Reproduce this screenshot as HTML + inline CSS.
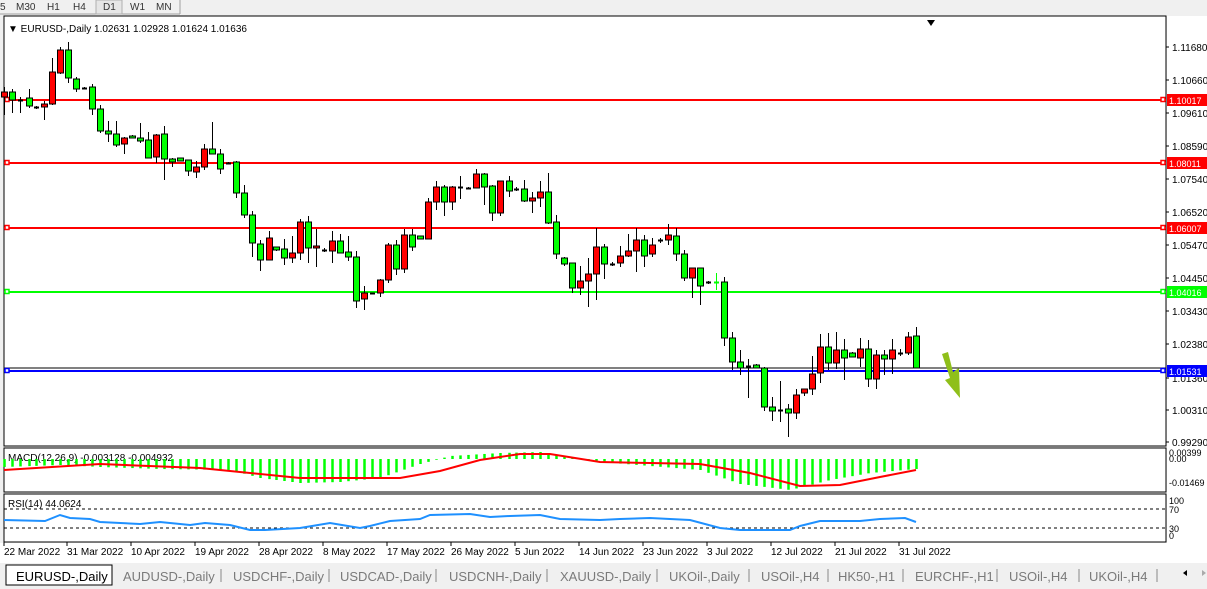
<!DOCTYPE html>
<html><head><meta charset="utf-8"><style>
body{margin:0;width:1207px;height:589px;overflow:hidden;background:#fff;font-family:"Liberation Sans",sans-serif;}
svg{position:absolute;left:0;top:0}
</style></head><body>
<svg id="s" width="1207" height="589" xmlns="http://www.w3.org/2000/svg" font-family="Liberation Sans, sans-serif">
<rect x="0" y="0" width="1207" height="589" fill="#f0f0f0"/>
<rect x="0" y="0" width="180" height="14" fill="#f0f0f0"/>
<line x1="0" y1="14" x2="180" y2="14" stroke="#a0a0a0"/>
<line x1="180" y1="0" x2="180" y2="14" stroke="#a0a0a0"/>
<rect x="96" y="0" width="26" height="14" fill="#e6e6e6" stroke="#b0b0b0"/>
<g font-size="10" fill="#333">
<text x="0" y="10">5</text><text x="16" y="10">M30</text><text x="47" y="10">H1</text><text x="73" y="10">H4</text>
<text x="103" y="10">D1</text><text x="130" y="10">W1</text><text x="156" y="10">MN</text></g>
<rect x="4" y="16" width="1162" height="430" fill="#fff" stroke="#000"/>
<rect x="4" y="448" width="1162" height="44" fill="#fff" stroke="#000"/>
<rect x="4" y="494" width="1162" height="48" fill="#fff" stroke="#000"/>
<rect x="1167" y="16" width="40" height="527" fill="#fff"/>
<rect x="0" y="543" width="1207" height="20" fill="#fff"/>
<text x="8" y="32" font-size="10" fill="#000">▼ EURUSD-,Daily  1.02631 1.02928 1.01624 1.01636</text>
<polygon points="927,20 935,20 931,26" fill="#000"/>
<g id="axis" font-size="10" fill="#000"></g>
<g id="lines"></g>
<g id="candles"></g>
<polygon points="942,354 948,352 953,372 959,368 960,398 945,380 950,378" fill="#8fbf1a"/>
<g id="macd"></g>
<g id="rsi"></g>
<g id="dates" font-size="10" fill="#000"></g>
<rect x="0" y="563" width="1207" height="26" fill="#f0f0f0"/>
<rect x="6" y="565" width="106" height="20" fill="#fff" stroke="#000"/>
<g font-size="13" fill="#7a7a7a">
<text x="16" y="581" fill="#000">EURUSD-,Daily</text>
<text x="123" y="581">AUDUSD-,Daily</text><text x="233" y="581">USDCHF-,Daily</text>
<text x="340" y="581">USDCAD-,Daily</text><text x="449" y="581">USDCNH-,Daily</text>
<text x="560" y="581">XAUUSD-,Daily</text><text x="669" y="581">UKOil-,Daily</text>
<text x="761" y="581">USOil-,H4</text><text x="838" y="581">HK50-,H1</text>
<text x="915" y="581">EURCHF-,H1</text><text x="1009" y="581">USOil-,H4</text>
<text x="1089" y="581">UKOil-,H4</text></g>
<g stroke="#888"><line x1="221" y1="569" x2="221" y2="582"/><line x1="329" y1="569" x2="329" y2="582"/><line x1="436" y1="569" x2="436" y2="582"/><line x1="547" y1="569" x2="547" y2="582"/><line x1="657" y1="569" x2="657" y2="582"/><line x1="749" y1="569" x2="749" y2="582"/><line x1="828" y1="569" x2="828" y2="582"/><line x1="903" y1="569" x2="903" y2="582"/><line x1="997" y1="569" x2="997" y2="582"/><line x1="1079" y1="569" x2="1079" y2="582"/><line x1="1157" y1="569" x2="1157" y2="582"/></g>
<polygon points="1183,573 1187,570 1187,576" fill="#000"/><polygon points="1202,570 1206,573 1202,576" fill="#aaa"/>
</svg>
<script>
const NS="http://www.w3.org/2000/svg";
function el(p,t,a,txt){const e=document.createElementNS(NS,t);for(const k in a)e.setAttribute(k,a[k]);if(txt!=null)e.textContent=txt;document.getElementById(p).appendChild(e);return e;}
[["1.11680",47],["1.10660",80],["1.09610",113],["1.08590",146],["1.07540",179],["1.06520",212],["1.05470",245],["1.04450",278],["1.03430",311],["1.02380",344],["1.01360",378],["1.00310",410],["0.99290",442]].forEach(([t,y])=>{el("axis","line",{x1:1166,y1:y,x2:1169,y2:y,stroke:"#000"});el("axis","text",{x:1172,y:y+4},t);});
[[100,"#ff0000","1.10017"],[163,"#ff0000","1.08011"],[228,"#ff0000","1.06007"],[292,"#00ff00","1.04016"],[371,"#0000ff","1.01531"]].forEach(([y,c,t])=>{
 if(c=="#0000ff")el("lines","line",{x1:4,y1:368,x2:1166,y2:368,stroke:"#000","stroke-width":1});
 el("lines","line",{x1:4,y1:y,x2:1166,y2:y,stroke:c,"stroke-width":2});
 el("lines","rect",{x:5,y:y-2.5,width:4,height:4,fill:"#fff",stroke:c,"stroke-width":1.5});
 el("lines","rect",{x:1161,y:y-2.5,width:4,height:4,fill:"#fff",stroke:c,"stroke-width":1.5});
 el("lines","rect",{x:1167,y:y-6,width:40,height:12,fill:c});
 el("lines","text",{x:1169,y:y+4,"font-size":9,fill:"#fff"},t);
});
const C=[[4,87,115,92,97,"r"],[12,89,113,92,100,"g"],[20,97,113,100,100,"d"],[29,89,108,98,106,"g"],[36,106,109,107,107,"d"],[44,101,120,104,107,"r"],[52,58,105,72,104,"r"],[60,47,74,50,73,"r"],[68,42,83,50,78,"g"],[76,77,92,79,89,"g"],[84,87,89,88,88,"d"],[92,84,115,87,109,"g"],[100,105,133,109,131,"g"],[108,121,142,131,134,"g"],[116,121,147,134,145,"g"],[124,137,154,138,144,"r"],[132,135,138,136,138,"g"],[140,123,143,138,141,"g"],[148,132,158,140,158,"g"],[156,134,163,135,157,"r"],[164,126,180,134,159,"g"],[172,158,167,159,162,"g"],[180,158,161,158,161,"g"],[188,160,176,160,171,"g"],[196,161,178,167,172,"r"],[204,144,170,149,167,"r"],[212,122,154,149,154,"g"],[220,149,174,154,169,"g"],[228,162,164,163,163,"d"],[236,161,198,162,193,"g"],[244,185,218,193,215,"g"],[252,211,257,215,243,"g"],[260,240,271,244,260,"g"],[269,231,260,238,260,"r"],[276,247,251,247,250,"g"],[284,239,265,249,258,"g"],[292,236,263,253,258,"r"],[300,219,260,222,253,"r"],[308,216,263,222,248,"g"],[316,229,267,246,248,"r"],[324,248,252,250,250,"d"],[332,231,263,241,251,"r"],[340,234,253,241,253,"g"],[348,236,261,252,257,"g"],[356,251,308,257,301,"g"],[364,286,310,293,299,"r"],[372,293,294,293,293,"d"],[380,279,297,280,293,"r"],[388,243,283,245,280,"r"],[396,240,275,245,269,"g"],[404,229,273,235,269,"r"],[412,229,251,235,247,"g"],[420,236,239,236,239,"g"],[428,198,239,202,239,"r"],[436,181,210,187,202,"r"],[444,185,216,187,202,"g"],[452,186,210,187,202,"r"],[460,176,199,187,187,"d"],[468,187,189,188,188,"d"],[476,169,188,174,188,"r"],[484,173,205,174,187,"g"],[492,185,221,186,213,"g"],[500,181,216,181,213,"r"],[509,176,197,181,191,"g"],[516,187,191,189,189,"d"],[524,180,202,189,201,"g"],[532,192,213,198,201,"r"],[540,181,207,192,198,"r"],[548,173,224,192,223,"g"],[556,215,259,222,254,"g"],[564,257,266,258,264,"g"],[572,263,293,263,288,"g"],[580,266,295,281,288,"r"],[588,258,307,274,281,"r"],[596,228,300,247,274,"r"],[604,244,279,247,264,"g"],[612,262,266,264,264,"d"],[620,246,267,256,263,"r"],[628,234,257,251,256,"r"],[636,228,272,240,251,"r"],[644,235,267,240,256,"g"],[652,238,257,245,254,"r"],[660,238,243,240,240,"d"],[668,224,245,235,240,"r"],[676,228,261,236,254,"g"],[684,250,281,254,278,"g"],[692,268,298,268,278,"r"],[700,268,305,268,286,"g"],[708,281,284,282,282,"d"],[716,273,290,282,282,"l"],[724,277,346,282,338,"g"],[732,332,370,338,362,"g"],[740,350,375,362,368,"g"],[748,359,398,366,366,"d"],[756,364,368,365,368,"g"],[764,367,411,368,407,"g"],[772,397,421,407,411,"g"],[780,381,422,410,410,"d"],[788,404,437,409,413,"g"],[796,389,419,395,413,"r"],[804,389,396,389,393,"r"],[812,356,395,374,389,"r"],[820,334,383,347,373,"r"],[828,333,370,347,363,"g"],[836,332,369,350,363,"r"],[844,339,380,350,358,"g"],[852,352,357,353,357,"g"],[860,338,367,349,358,"r"],[868,340,387,349,379,"g"],[876,350,389,355,379,"r"],[884,350,375,355,359,"g"],[892,339,374,350,359,"r"],[900,349,356,353,353,"d"],[908,332,355,337,353,"r"],[916,327,368,336,368,"g"]];
C.forEach(([x,wt,wb,bt,bb,c])=>{
 const sc=c=="l"?"#00ff00":"#000";
 el("candles","line",{x1:x+.5,y1:wt,x2:x+.5,y2:wb,stroke:sc});
 if(c=="d"||c=="l"){el("candles","line",{x1:x-2,y1:bt+.5,x2:x+3,y2:bt+.5,stroke:sc,"stroke-width":2});}
 else el("candles","rect",{x:x-2.5,y:bt,width:6,height:Math.max(bb-bt,2),fill:c=="r"?"#ff0000":"#00ff00",stroke:"#000"});
});
el("macd","text",{x:8,y:461,"font-size":10,fill:"#000"},"MACD(12,26,9) -0.003128 -0.004932");
el("macd","text",{x:1169,y:456,"font-size":9,fill:"#000"},"0.00399");
el("macd","text",{x:1169,y:462,"font-size":9,fill:"#000"},"0.00");
el("macd","text",{x:1169,y:486,"font-size":9,fill:"#000"},"-0.01469");
function interp(pts,x){for(let i=0;i<pts.length-1;i++){if(x<=pts[i+1][0]){const[a,b]=[pts[i],pts[i+1]];return a[1]+(b[1]-a[1])*(x-a[0])/(b[0]-a[0]);}}return pts[pts.length-1][1];}
const H=[[4,467],[60,465],[100,467],[160,469],[230,470],[260,478],[300,483],[340,482],[380,478],[420,464],[450,456],[500,453],[540,452],[570,458],[600,462],[650,466],[700,470],[740,484],[790,490],[830,480],[870,473],[916,469]];
const base=459;
C.forEach(([x])=>{const y=interp(H,x);el("macd","line",{x1:x+.5,y1:base,x2:x+.5,y2:y,stroke:"#00ff00","stroke-width":2.5});});
const S=[[4,470],[100,464],[200,468],[300,478],[400,478],[440,471],[480,460],[520,454],[550,454],[600,462],[650,463],[700,464],[750,473],[800,486],[840,485],[880,477],[916,470]];
el("macd","polyline",{points:S.map(p=>p.join(",")).join(" "),fill:"none",stroke:"#ff0000","stroke-width":2});
el("rsi","text",{x:8,y:507,"font-size":10,fill:"#000"},"RSI(14) 44.0624");
el("rsi","line",{x1:4,y1:509,x2:1166,y2:509,stroke:"#000","stroke-dasharray":"3,3"});
el("rsi","line",{x1:4,y1:528,x2:1166,y2:528,stroke:"#000","stroke-dasharray":"3,3"});
[["100",504],["70",513],["30",532],["0",539]].forEach(([t,y])=>el("rsi","text",{x:1169,y:y,"font-size":9,fill:"#000"},t));
const R=[[4,520],[45,521],[60,515],[70,518],[90,519],[100,522],[140,524],[160,522],[190,525],[205,523],[230,525],[250,530],[265,530],[300,528],[330,523],[360,528],[370,526],[390,521],[420,519],[430,515],[470,514],[490,517],[510,516],[540,515],[560,519],[600,520],[620,519],[650,518],[690,520],[720,528],[740,530],[790,530],[800,526],[820,521],[860,521],[880,519],[905,518],[916,522]];
el("rsi","polyline",{points:R.map(p=>p.join(",")).join(" "),fill:"none",stroke:"#1e90ff","stroke-width":2});
[["22 Mar 2022",4],["31 Mar 2022",67],["10 Apr 2022",131],["19 Apr 2022",195],["28 Apr 2022",259],["8 May 2022",323],["17 May 2022",387],["26 May 2022",451],["5 Jun 2022",515],["14 Jun 2022",579],["23 Jun 2022",643],["3 Jul 2022",707],["12 Jul 2022",771],["21 Jul 2022",835],["31 Jul 2022",899]].forEach(([t,x])=>{el("dates","line",{x1:x,y1:542,x2:x,y2:546,stroke:"#000"});el("dates","text",{x:x,y:555},t);});
</script>
</body></html>
